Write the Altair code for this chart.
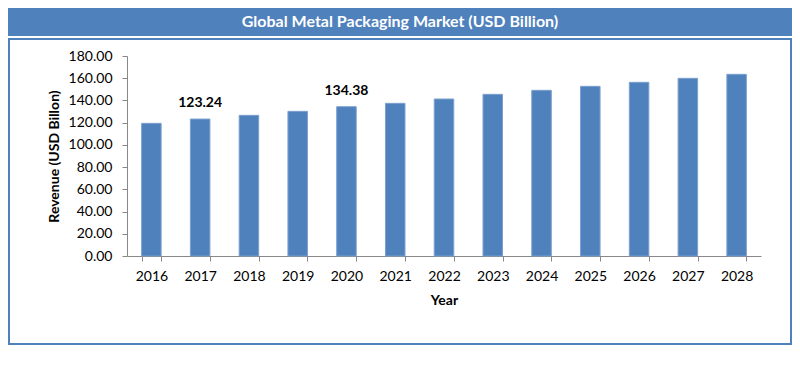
import altair as alt
import pandas as pd

years = ["2016", "2017", "2018", "2019", "2020", "2021", "2022",
         "2023", "2024", "2025", "2026", "2027", "2028"]
revenue = [119.4, 123.24, 126.6, 130.2, 134.38, 137.4, 141.3,
           145.5, 149.1, 152.7, 156.3, 159.9, 163.5]
label_years = ["2017", "2020"]
label_values = [123.24, 134.38]
label_texts = ["123.24", "134.38"]
y_ticks = [0, 20, 40, 60, 80, 100, 120, 140, 160, 180]
chart_title = "Global Metal Packaging Market (USD Billion)"
x_title = "Year"
y_title = "Revenue (USD Billon)"

FONT = "Lato"
BLUE = "#4F81BD"
W, H = 634, 200          # plot area
L, T = 119, 48           # padding left / top
TOTAL_W, TOTAL_H = 784, 370

df = pd.DataFrame({"Year": years, "Revenue": revenue})
lab = pd.DataFrame({"Year": label_years, "Revenue": label_values, "Label": label_texts})
one = pd.DataFrame({"k": [0]})
ttl = pd.DataFrame({"t": [chart_title]})

x_enc = alt.X(
    "Year:N", sort=years,
    scale=alt.Scale(paddingInner=0.6, paddingOuter=0.3),
    axis=alt.Axis(
        title=x_title, labelAngle=0, tickBand="extent", grid=False,
        labelFont=FONT, labelFontSize=14, labelColor="#000000", labelPadding=8,
        titleFont=FONT, titleFontSize=14, titleFontWeight="bold", titleColor="#000000",
        titlePadding=10, domainColor="#888888", tickColor="#888888", tickSize=5,
    ),
)
y_enc = alt.Y(
    "Revenue:Q",
    scale=alt.Scale(domain=[0, 180], nice=False),
    axis=alt.Axis(
        title=y_title, values=y_ticks, format=".2f", grid=False,
        labelOverlap=False, labelFlush=False, labelBound=False,
        labelFont=FONT, labelFontSize=14, labelColor="#000000", labelPadding=10,
        titleFont=FONT, titleFontSize=14, titleFontWeight="bold", titleColor="#000000",
        titlePadding=7, domainColor="#888888", tickColor="#888888", tickSize=5,
    ),
)

title_bar = alt.Chart(one).mark_rect(fill=BLUE).encode(
    x=alt.value(-L), x2=alt.value(TOTAL_W - L),
    y=alt.value(-T), y2=alt.value(28 - T),
)
frame = alt.Chart(one).mark_rect(fillOpacity=0, stroke=BLUE, strokeWidth=2).encode(
    x=alt.value(-L + 1), x2=alt.value(TOTAL_W - L - 1),
    y=alt.value(31 - T), y2=alt.value(336 - T),
)
title_text = alt.Chart(ttl).mark_text(
    font=FONT, fontSize=16, fontWeight="bold", color="#FFFFFF",
    align="center", baseline="middle",
).encode(
    text="t:N",
    x=alt.value((TOTAL_W) / 2 - L), y=alt.value(14 - T),
)

bars = alt.Chart(df).mark_bar(color=BLUE, stroke="#7BA0CD", strokeWidth=1).encode(
    x=x_enc, y=y_enc,
)
labels = alt.Chart(lab).mark_text(
    font=FONT, fontSize=14, fontWeight="bold", color="#000000",
    baseline="bottom", dy=-9,
).encode(
    x=x_enc, y=y_enc, text="Label:N",
)

chart = alt.layer(title_bar, frame, title_text, bars, labels).properties(
    width=W, height=H,
    padding={"left": L, "top": T, "right": TOTAL_W - L - W, "bottom": TOTAL_H - T - H},
    autosize=alt.AutoSizeParams(type="none"),
    background="#FFFFFF",
).configure_view(stroke=None).configure_axis(labelOverlap=False)

chart.save("out.html", embed_options={"renderer": "svg", "actions": False})
